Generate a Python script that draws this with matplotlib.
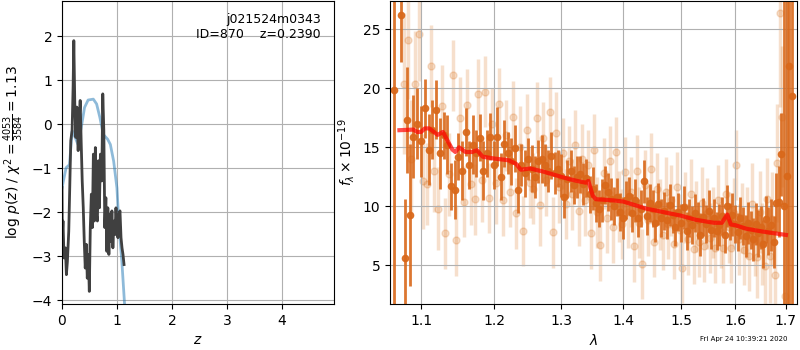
import numpy as np
import matplotlib
matplotlib.use('Agg')
import matplotlib.pyplot as plt
from matplotlib.ticker import FixedLocator, NullLocator, FixedFormatter

# p(z) curves
chi_z = [0.000, 0.074, 0.136, 0.185, 0.23, 0.29, 0.35, 0.41, 0.475, 0.57, 0.63, 0.69,
         0.75, 0.83, 0.88, 0.94, 1.00, 1.04, 1.09, 1.14]
chi_v = [-1.45, -0.99, -0.92, -0.15, -0.27, -0.46, -0.08, 0.38, 0.55, 0.57, 0.46, 0.15,
         -0.23, -0.34, -0.46, -0.84, -1.45, -2.37, -3.13, -4.12]

pz_z = [0.000, 0.006, 0.018, 0.037, 0.061, 0.080, 0.098, 0.123, 0.141, 0.160, 0.184, 0.202,
        0.215, 0.233, 0.252, 0.270, 0.294, 0.313, 0.331, 0.350, 0.368, 0.387, 0.405, 0.423,
        0.442, 0.460, 0.479, 0.497, 0.515, 0.534, 0.552, 0.571, 0.589, 0.607, 0.626, 0.644,
        0.663, 0.681, 0.699, 0.724, 0.742, 0.761, 0.779, 0.798, 0.816, 0.834, 0.853, 0.871,
        0.890, 0.908, 0.926, 0.945, 0.963, 0.982, 1.000, 1.018, 1.037, 1.055, 1.074, 1.092,
        1.110, 1.129]
pz_v = [-1.44, -2.51, -2.20, -3.04, -2.81, -3.42, -3.12, -2.43, -1.44, -0.37, -0.14, 0.85,
        1.90, 0.46, -0.30, 0.39, -0.60, 0.08, 0.54, -0.45, -1.29, -1.90, -2.66, -3.27,
        -2.73, -3.50, -2.96, -3.80, -2.35, -1.59, -2.35, -0.68, -2.20, -0.53, -2.05, -2.20,
        -0.83, -1.90, -0.68, -1.29, 0.69, -0.14, -2.35, -1.67, -2.89, -1.90, -2.96, -2.05,
        -2.66, -1.97, -2.81, -2.20, -2.51, -1.90, -2.35, -2.58, -2.05, -1.97, -2.58, -2.81,
        -2.96, -3.19]

# spectrum, dark points
dark_wave = [1.0648, 1.0744, 1.0787, 1.0812, 1.0850,
             1.090, 1.095, 1.100, 1.105, 1.110, 1.115, 1.120, 1.125, 1.130, 1.135,
             1.140, 1.145, 1.150, 1.155, 1.160, 1.165, 1.170, 1.175, 1.180, 1.185,
             1.190, 1.195, 1.200, 1.205, 1.210, 1.215, 1.220, 1.225, 1.230, 1.235,
             1.240, 1.245, 1.250, 1.255, 1.260, 1.265, 1.270, 1.275, 1.280, 1.285,
             1.290, 1.295, 1.300, 1.305, 1.310, 1.315, 1.320, 1.325, 1.330, 1.335,
             1.340, 1.345, 1.350, 1.355, 1.360, 1.365, 1.370, 1.375, 1.380, 1.385,
             1.390, 1.395, 1.400, 1.405, 1.410, 1.415, 1.420, 1.425, 1.430, 1.435,
             1.440, 1.445, 1.450, 1.455, 1.460, 1.465, 1.470, 1.475, 1.480, 1.485,
             1.490, 1.495, 1.500, 1.505, 1.510, 1.515, 1.520, 1.525, 1.530, 1.535,
             1.540, 1.545, 1.550, 1.555, 1.560, 1.565, 1.570, 1.575, 1.580, 1.585,
             1.590, 1.595, 1.600, 1.605, 1.610, 1.615, 1.620, 1.625, 1.630, 1.635,
             1.640, 1.645, 1.650, 1.655, 1.660, 1.665, 1.670, 1.675,
             1.680, 1.685, 1.6895, 1.697, 1.702, 1.706, 1.713]
dark_flux = [19.85, 26.2, 5.6, 17.3, 9.25,
             15.9, 17.0, 15.5, 18.3, 14.8, 16.5, 18.2, 14.5, 16.0, 15.2,
             11.7, 11.4, 14.2, 13.0, 16.3, 13.5, 15.2, 14.5, 15.8, 13.0,
             14.5, 15.9, 13.5, 15.9, 12.5, 15.3, 14.5, 13.8, 14.9, 11.4,
             13.5, 12.8, 14.0, 13.2, 12.5, 13.8, 14.0, 13.5, 13.0, 14.3,
             12.8, 13.2, 12.6, 10.8, 12.3, 13.0, 11.8, 12.5, 12.7, 11.9,
             12.4, 11.0, 11.5, 10.3, 9.8, 10.5, 11.8, 11.2, 10.6, 10.0,
             10.8, 9.5, 9.0, 10.5, 10.9, 9.4, 10.5, 9.0, 9.8, 12.1,
             9.2, 10.3, 9.8, 8.6, 10.2, 9.0, 9.6, 8.8, 10.1, 9.3,
             8.2, 9.5, 8.6, 9.9, 7.9, 9.0, 8.4, 9.4, 8.8, 7.6,
             9.1, 8.5, 9.6, 8.0, 9.0, 7.9, 8.4, 9.2, 7.6, 10.0,
             8.7, 9.3, 8.5, 7.8, 9.0, 8.3, 7.5, 8.6, 8.0, 7.2,
             8.5, 7.7, 8.2, 6.8, 8.9, 7.9, 8.4, 7.0,
             10.3, 10.4, 14.4, 10.0, 12.6, 21.9, 19.35]
dark_err = [25, 4, 5, 4.5, 6,
            3.5, 3.0, 3.0, 2.5, 3.0, 2.5, 2.5, 3.0, 2.0, 2.5,
            2.0, 2.5, 2.0, 2.5, 2.0, 2.0, 2.5, 2.0, 2.0, 2.5,
            2.0, 2.0, 2.0, 2.5, 2.0, 2.0, 1.8, 2.0, 2.0, 2.0,
            1.8, 2.0, 1.8, 2.0, 1.8, 1.8, 2.0, 1.8, 1.8, 2.0,
            1.8, 1.6, 1.8, 1.8, 1.6, 1.8, 1.6, 1.8, 1.6, 1.8,
            1.6, 1.6, 1.8, 1.6, 1.6, 1.8, 1.6, 1.6, 1.8, 1.6,
            1.6, 1.6, 1.8, 1.6, 1.6, 1.6, 1.8, 1.6, 1.6, 1.8,
            1.6, 1.6, 1.6, 1.6, 1.8, 1.6, 1.6, 1.6, 1.8, 1.6,
            1.6, 1.6, 1.6, 1.8, 1.6, 1.6, 1.6, 1.6, 1.6, 1.8,
            1.6, 1.6, 1.8, 1.6, 1.6, 1.6, 1.8, 1.6, 1.6, 1.8,
            1.6, 1.8, 1.6, 1.6, 1.8, 1.6, 1.8, 1.8, 1.6, 1.8,
            1.8, 2.0, 1.8, 2.0, 2.0, 2.0, 2.2, 2.2,
            2.5, 3.0, 3.5, 25, 16, 25, 25]

# spectrum, light points
light_wave = [1.0775, 1.0825, 1.0875, 1.0925, 1.0975, 1.1025, 1.1075, 1.1125, 1.1175, 1.1225,
              1.1275, 1.1325, 1.1375, 1.1425, 1.1475, 1.1525, 1.1575, 1.1625, 1.1675, 1.1725,
              1.1775, 1.1825, 1.1875, 1.1925, 1.1975, 1.2025, 1.2075, 1.2125, 1.2175, 1.2225,
              1.2275, 1.2325, 1.2375, 1.2425, 1.2475, 1.2525, 1.2575, 1.2625, 1.2675, 1.2725,
              1.2775, 1.2825, 1.2875, 1.2925, 1.2975, 1.3025, 1.3075, 1.3125, 1.3175, 1.3225,
              1.3275, 1.3325, 1.3375, 1.3425, 1.3475, 1.3525, 1.3575, 1.3625, 1.3675, 1.3725,
              1.3775, 1.3825, 1.3875, 1.3925, 1.3975, 1.4025, 1.4075, 1.4125, 1.4175, 1.4225,
              1.4275, 1.4325, 1.4375, 1.4425, 1.4475, 1.4525, 1.4575, 1.4625, 1.4675, 1.4725,
              1.4775, 1.4825, 1.4875, 1.4925, 1.4975, 1.5025, 1.5075, 1.5125, 1.5175, 1.5225,
              1.5275, 1.5325, 1.5375, 1.5425, 1.5475, 1.5525, 1.5575, 1.5625, 1.5675, 1.5725,
              1.5775, 1.5825, 1.5875, 1.5925, 1.5975, 1.6025, 1.6075, 1.6125, 1.6175, 1.6225,
              1.6275, 1.6325, 1.6375, 1.6425, 1.6475, 1.6525, 1.6575, 1.6625, 1.6675, 1.6725,
              1.6775, 1.6825, 1.6875, 1.6925, 1.6975]
light_flux = [20.4, 24.1, 14.0, 20.4, 24.6, 12.1, 11.9, 21.9, 13.0, 9.8,
              18.5, 7.7, 12.7, 21.1, 7.1, 17.5, 10.4, 18.6, 11.9, 10.6,
              19.5, 12.2, 19.7, 10.7, 17.0, 12.0, 18.7, 10.5, 16.0, 11.2,
              17.6, 9.4, 15.0, 7.9, 16.5, 12.0, 11.5, 17.5, 10.1, 15.8,
              12.2, 18.0, 7.8, 16.2, 11.6, 14.5, 10.2, 13.8, 11.0, 15.2,
              9.6, 14.0, 10.5, 13.5, 7.7, 14.8, 9.5, 6.7, 12.8, 9.0,
              13.8, 8.2, 14.6, 10.0, 8.5, 12.9, 9.5, 11.2, 6.6, 13.0,
              8.6, 5.1, 11.8, 8.8, 13.2, 7.0, 11.5, 9.3, 7.6, 11.2,
              8.5, 10.5, 6.8, 11.6, 8.0, 4.8, 9.9, 7.2, 11.0, 6.4,
              9.1, 7.0, 10.3, 6.6, 9.4, 7.3, 8.6, 6.5, 10.5, 7.8,
              6.5, 11.0, 8.2, 6.5, 9.4, 13.5, 7.2, 9.0, 6.3, 8.6,
              5.8, 10.2, 7.1, 5.7, 9.5, 6.8, 4.9, 10.6, 5.8, 8.9,
              4.2, 13.7, 26.4, 17.6, 2.4]
light_err = [6.0, 5.0, 5.0, 4.5, 4.0, 4.0, 3.5, 3.5, 3.5, 3.5,
             3.5, 3.0, 3.5, 3.0, 3.0, 3.5, 3.0, 3.0, 3.5, 3.0,
             3.0, 3.5, 3.0, 3.0, 3.0, 3.5, 3.0, 3.0, 3.0, 3.0,
             3.0, 3.0, 3.5, 3.0, 3.0, 3.0, 3.0, 3.0, 3.5, 3.0,
             3.0, 3.0, 3.0, 3.5, 3.0, 3.0, 3.0, 3.0, 3.0, 3.0,
             3.0, 3.0, 3.0, 3.0, 3.0, 3.0, 3.0, 3.0, 3.0, 3.0,
             3.0, 3.0, 3.0, 3.0, 3.0, 3.0, 3.0, 3.0, 3.0, 3.0,
             3.0, 3.0, 3.0, 3.0, 3.0, 3.0, 3.0, 3.0, 3.0, 3.0,
             3.0, 3.0, 3.0, 3.0, 3.0, 3.0, 3.0, 3.0, 3.0, 3.0,
             3.0, 3.0, 3.0, 3.0, 3.0, 3.0, 3.0, 3.0, 3.0, 3.0,
             3.0, 3.0, 3.0, 3.0, 3.0, 3.0, 3.0, 3.0, 3.0, 3.0,
             3.0, 3.5, 3.0, 3.5, 3.5, 3.5, 4.0, 3.5, 4.0, 4.0,
             5.0, 5.0, 8.0, 6.0, 5.0]

# model spectrum
model_wave = [1.072, 1.090, 1.095, 1.100, 1.105, 1.111, 1.115, 1.122, 1.129, 1.135, 1.142,
              1.146, 1.151, 1.160, 1.169, 1.176, 1.184, 1.200, 1.221, 1.232, 1.239, 1.253,
              1.272, 1.300, 1.313, 1.329, 1.339, 1.343, 1.350, 1.355, 1.383, 1.400, 1.439,
              1.500, 1.527, 1.560, 1.575, 1.585, 1.592, 1.600, 1.621, 1.654, 1.700]
model_flux = [16.45, 16.5, 16.3, 16.3, 16.6, 16.6, 16.4, 16.05, 16.3, 15.6, 14.8,
              14.6, 15.0, 14.6, 14.6, 14.75, 14.2, 14.05, 13.9, 13.6, 13.1, 13.2,
              12.95, 12.5, 12.3, 12.1, 12.0, 12.15, 10.9, 10.6, 10.5, 10.4, 9.8,
              9.2, 8.85, 8.6, 8.6, 9.3, 8.45, 8.4, 8.1, 7.85, 7.57]

fig = plt.figure(figsize=(8, 3.5), dpi=100)

ax1 = fig.add_axes([0.0775, 0.131, 0.34, 0.866])
ax1.plot(chi_z, chi_v, color='tab:blue', alpha=0.5, lw=2)
ax1.plot(pz_z, pz_v, color='0.25', lw=2)
ax1.set_xlim(0, 4.95)
ax1.set_ylim(-4.09, 2.8)
ax1.set_xticks([0, 1, 2, 3, 4])
ax1.set_yticks([-4, -3, -2, -1, 0, 1, 2])
ax1.grid()
ax1.set_xlabel('$z$')
ax1.set_ylabel(r'log $p(z)$ / $\chi^2=\frac{4053}{3584}=1.13$')
ax1.text(0.952, 0.94, 'j021524m0343', ha='right', va='center', fontsize=9,
         transform=ax1.transAxes)
ax1.text(0.952, 0.89, 'ID=870    z=0.2390', ha='right', va='center', fontsize=9,
         transform=ax1.transAxes)

ax2 = fig.add_axes([0.4875, 0.131, 0.509, 0.866])
ax2.errorbar(light_wave, light_flux, yerr=light_err, fmt='o', ms=5, color='#d9701a',
             alpha=0.22, lw=2.5, zorder=1)
ax2.errorbar(dark_wave, dark_flux, yerr=dark_err, fmt='o', ms=4.5, color='#d9681a',
             alpha=0.9, lw=2, zorder=2)
ax2.plot(model_wave, model_flux, color='red', alpha=0.7, lw=3, zorder=3)
ax2.set_xscale('log')
ax2.set_xlim(1.06, 1.723)
ax2.set_ylim(1.7, 27.4)
ax2.xaxis.set_major_locator(FixedLocator([1.1, 1.2, 1.3, 1.4, 1.5, 1.6, 1.7]))
ax2.xaxis.set_major_formatter(FixedFormatter(['1.1', '1.2', '1.3', '1.4', '1.5', '1.6', '1.7']))
ax2.xaxis.set_minor_locator(NullLocator())
ax2.set_yticks([5, 10, 15, 20, 25])
ax2.grid()
ax2.set_xlabel(r'$\lambda$')
ax2.set_ylabel(r'$f_\lambda\times10^{-19}$')

fig.text(0.985, 0.03, 'Fri Apr 24 10:39:21 2020', ha='right', va='center', fontsize=5)

plt.savefig('out.png', dpi=100)
